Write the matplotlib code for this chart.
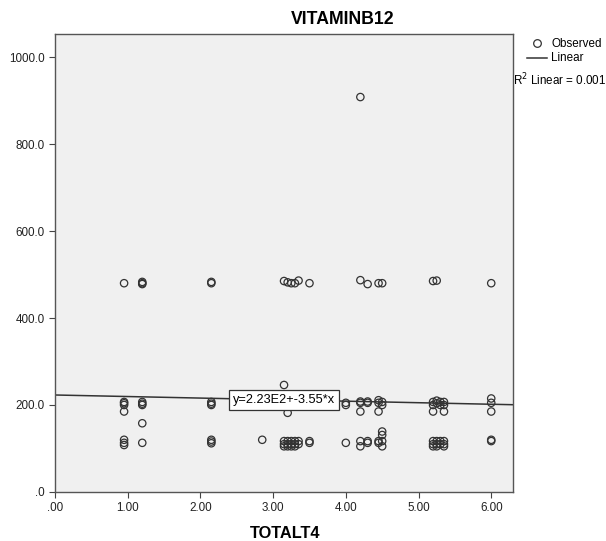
import numpy as np
import matplotlib
matplotlib.use("Agg")
import matplotlib.pyplot as plt

plt.rcParams['font.family'] = ['Liberation Sans', 'DejaVu Sans']

# observed values, grouped by TOTALT4 value
groups_x = [0.95, 1.2, 2.15, 2.85, 3.15, 3.2, 3.25, 3.3, 3.35, 3.5,
            4.0, 4.2, 4.3, 4.45, 4.5, 5.2, 5.25, 5.3, 5.35, 6.0]
groups_y = [
    [480, 207, 204, 200, 185, 120, 113, 108],
    [483, 480, 478, 207, 203, 200, 158, 113],
    [483, 480, 207, 203, 200, 120, 116, 112],
    [120],
    [485, 246, 117, 110, 105],
    [482, 182, 117, 110, 105],
    [480, 117, 110, 105],
    [480, 117, 110, 105],
    [486, 117, 110],
    [480, 117, 113],
    [205, 200, 113],
    [908, 487, 208, 205, 185, 117, 105],
    [478, 208, 205, 117, 113],
    [480, 211, 205, 185, 117, 113],
    [480, 207, 200, 139, 131, 117, 105],
    [485, 207, 200, 185, 117, 110, 105],
    [486, 210, 204, 117, 110, 105],
    [207, 200, 117, 110],
    [207, 200, 185, 117, 110, 105],
    [480, 215, 205, 185, 120, 117],
]

intercept = 223.0
slope = -3.55
r2 = 0.001

x_ticks = [0, 1, 2, 3, 4, 5, 6]
x_labels = ['.00', '1.00', '2.00', '3.00', '4.00', '5.00', '6.00']
y_ticks = [0, 200, 400, 600, 800, 1000]
y_labels = ['.0', '200.0', '400.0', '600.0', '800.0', '1000.0']

xs = np.concatenate([[gx] * len(gy) for gx, gy in zip(groups_x, groups_y)])
ys = np.concatenate(groups_y)

fig = plt.figure(figsize=(6.06, 5.41), dpi=100)
ax = fig.add_axes([0.0908, 0.0906, 0.7558, 0.8466])
ax.set_facecolor('#f0f0f0')

ax.scatter(xs, ys, s=28, facecolors='none', edgecolors='#333333',
           linewidths=0.9, zorder=3)

xl = np.array([0, 6.3])
ax.plot(xl, intercept + slope * xl, color='#333333', lw=1.1, zorder=2)

ax.text(3.15, 212, 'y=2.23E2+-3.55*x', fontsize=9.2, ha='center', va='center',
        bbox=dict(boxstyle='square,pad=0.3', fc='white', ec='#333333', lw=0.9),
        zorder=5)

ax.set_xlim(0, 6.3)
ax.set_ylim(0, 1053)
ax.set_xticks(x_ticks)
ax.set_xticklabels(x_labels)
ax.set_yticks(y_ticks)
ax.set_yticklabels(y_labels)
ax.tick_params(labelsize=8.4, length=4, color='#444444', direction='out',
               labelcolor='#222222')
for sp in ax.spines.values():
    sp.set_color('#555555')
    sp.set_linewidth(1.0)

fig.text(343 / 606, 1 - 20 / 541, 'VITAMINB12', fontsize=12.7,
         fontweight='bold', ha='center', va='center')
fig.text(285 / 606, 1 - 533 / 541, 'TOTALT4', fontsize=11.8,
         fontweight='bold', ha='center', va='center')

# legend outside on the right
fig.lines.append(plt.Line2D([537 / 606], [1 - 43 / 541], marker='o', ms=5.5,
                            mfc='none', mec='#333333', mew=0.9, ls='none',
                            transform=fig.transFigure))
fig.text(551 / 606, 1 - 44 / 541, 'Observed', fontsize=8.4, ha='left', va='center')
fig.lines.append(plt.Line2D([527 / 606, 547 / 606], [1 - 58 / 541] * 2,
                            color='#333333', lw=1.1, transform=fig.transFigure))
fig.text(551 / 606, 1 - 58 / 541, 'Linear', fontsize=8.4, ha='left', va='center')
fig.text(513 / 606, 1 - 80 / 541, 'R$^2$ Linear = %.3f' % r2, fontsize=8.4,
         ha='left', va='center')

fig.savefig('out.png', dpi=100, facecolor='white')
